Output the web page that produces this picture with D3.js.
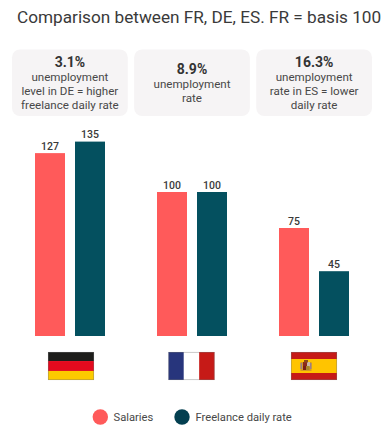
<!DOCTYPE html>
<html><head><meta charset="utf-8">
<script src="https://cdn.jsdelivr.net/npm/d3@7"></script>
<style>html,body{margin:0;background:#fff}svg{display:block;font-family:Roboto,sans-serif}</style>
</head><body><svg id="c" width="388" height="436"></svg>
<script>
const title = "Comparison between FR, DE, ES. FR = basis 100";
const countries = ["DE", "FR", "ES"];
const seriesNames = ["Salaries", "Freelance daily rate"];
const salaries = [127, 100, 75];
const freelance = [135, 100, 45];
const colors = ["#ff5a5a", "#04505f"];
const cardHeads = ["3.1%", "8.9%", "16.3%"];
const cardLines = [
  ["unemployment", "level in DE = higher", "freelance daily rate"],
  ["unemployment", "rate"],
  ["unemployment", "rate in ES = lower", "daily rate"]
];
const svg = d3.select("#c");
const x0 = d3.scaleBand().domain(countries).range([9, 375]);
const x1 = d3.scaleBand().domain(seriesNames).range([-35, 35]).paddingInner(0.25);
const y = d3.scaleLinear().domain([0, 100]).range([336, 192]);
const cx = c => x0(c) + x0.bandwidth() / 2;

svg.append("text").attr("x", 17).attr("y", 23).attr("font-size", 17.2).attr("fill", "#3a3a3a").text(title);

const cardX = d3.scaleBand().domain(countries).range([12, 372]).paddingInner(0.052);
countries.forEach((c, i) => {
  const g = svg.append("g");
  g.append("rect").attr("x", cardX(c)).attr("y", 49.5).attr("width", cardX.bandwidth()).attr("height", 66.5)
    .attr("rx", 8).attr("fill", "#f6f4f5");
  const mid = cardX(c) + cardX.bandwidth() / 2;
  const three = cardLines[i].length === 3;
  g.append("text").attr("x", mid).attr("y", three ? 67 : 74).attr("text-anchor", "middle")
    .attr("font-size", 14).attr("font-weight", 700).attr("fill", "#333").text(cardHeads[i]);
  cardLines[i].forEach((t, j) => g.append("text").attr("x", mid).attr("y", (three ? 81 : 88) + j * 14)
    .attr("text-anchor", "middle").attr("font-size", 11.6).attr("fill", "#484848").text(t));
});

[salaries, freelance].forEach((vals, s) => {
  countries.forEach((c, i) => {
    const bx = cx(c) + x1(seriesNames[s]);
    svg.append("rect").attr("x", bx).attr("y", y(vals[i])).attr("width", x1.bandwidth())
      .attr("height", y(0) - y(vals[i])).attr("fill", colors[s]);
    svg.append("text").attr("x", bx + x1.bandwidth() / 2).attr("y", y(vals[i]) - 3.5)
      .attr("text-anchor", "middle").attr("font-size", 10.5).attr("font-weight", 500)
      .attr("fill", "#3a3a3a").text(vals[i]);
  });
});

// flags
const flagW = 46, flagH = 28, flagTop = 352;
const flagNudge = {DE: 1, FR: -0.5, ES: 0};
function stripes(c, list, horiz) {
  const g = svg.append("g");
  const left = cx(c) - flagW / 2 + flagNudge[c];
  let pos = 0;
  const total = d3.sum(list, d => d[1]);
  list.forEach(([col, w]) => {
    if (horiz) g.append("rect").attr("x", left).attr("y", flagTop + pos / total * flagH).attr("width", flagW).attr("height", w / total * flagH).attr("fill", col);
    else g.append("rect").attr("x", left + pos / total * flagW).attr("y", flagTop).attr("width", w / total * flagW).attr("height", flagH).attr("fill", col);
    pos += w;
  });
  g.append("rect").attr("x", left + .3).attr("y", flagTop + .3).attr("width", flagW - .6).attr("height", flagH - .6)
    .attr("fill", "none").attr("stroke", "#777").attr("stroke-opacity", .55).attr("stroke-width", .7);
  return {g, left};
}
stripes("DE", [["#1d1d1b", 1], ["#e30a1e", 1.1], ["#fccb00", 1]], true);
stripes("FR", [["#27357c", 1], ["#ffffff", 1], ["#c61a17", 1]], false);
const es = stripes("ES", [["#c61a17", 1], ["#ffc400", 2], ["#c61a17", 1]], true);
const ax = es.left + 9.5;
[["#b9803a", 0, 11, 11, 9, .6], ["#8c2a1a", 2.5, 11, 4, 5, 1], ["#c9b9a8", 6.5, 11, 3, 4.5, 1], ["#7a1f14", 2.5, 15, 3, 4, 1],
 ["#a8862a", 5.5, 15, 3.5, 4, 1], ["#8c4a1a", 3.5, 9, 4, 2.5, 1], ["#9a7f8a", 0, 12, 1.5, 6, 1], ["#9a7f8a", 9.5, 12, 1.5, 6, 1]]
  .forEach(([col, dx, dy, w, h, op]) => es.g.append("rect").attr("x", ax + dx).attr("y", flagTop + dy - 1).attr("width", w).attr("height", h).attr("fill", col).attr("opacity", op));

// legend
const legend = svg.append("g");
[[100.3, 113.5], [182, 195.5]].forEach(([lx, tx], i) => {
  legend.append("circle").attr("cx", lx).attr("cy", 417).attr("r", 7.7).attr("fill", i ? "#033f50" : colors[0]);
  legend.append("text").attr("x", tx).attr("y", 421).attr("font-size", 11.2).attr("fill", "#484848").text(seriesNames[i]);
});
</script></body></html>
